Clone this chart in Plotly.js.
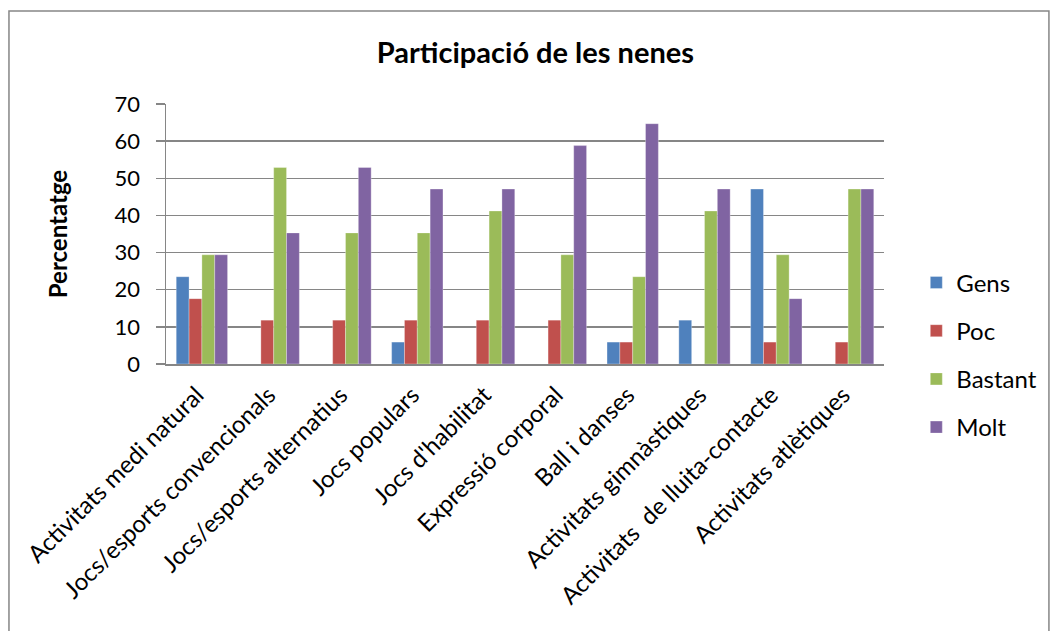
<!DOCTYPE html>
<html>
<head>
<meta charset="utf-8">
<script src="https://cdn.plot.ly/plotly-3.0.1.min.js"></script>
<style>
  html, body { margin: 0; padding: 0; background: #fff; }
  #chart { width: 1054px; height: 631px; }
</style>
</head>
<body>
<div id="chart"></div>
<script>
const categories = [
  "Activitats medi natural",
  "Jocs/esports convencionals",
  "Jocs/esports alternatius",
  "Jocs populars",
  "Jocs d'habilitat",
  "Expressió corporal",
  "Ball i danses",
  "Activitats gimnàstiques",
  "Activitats  de lluita-contacte",
  "Activitats atlètiques"
];
const gens    = [23.5, 0, 0, 5.9, 0, 0, 5.9, 11.8, 47.1, 0];
const poc     = [17.6, 11.8, 11.8, 11.8, 11.8, 11.8, 5.9, 0, 5.9, 5.9];
const bastant = [29.4, 52.9, 35.3, 35.3, 41.2, 29.4, 23.5, 41.2, 29.4, 47.1];
const molt    = [29.4, 35.3, 52.9, 47.1, 47.1, 58.8, 64.7, 47.1, 17.6, 47.1];
const seriesNames = ["Gens", "Poc", "Bastant", "Molt"];
const seriesColors = ["#4F81BD", "#C0504D", "#9BBB59", "#8064A2"];
const yTicks = [0, 10, 20, 30, 40, 50, 60, 70];

const FONT = "Lato, 'Open Sans', sans-serif";
const seriesValues = [gens, poc, bastant, molt];

const traces = seriesValues.map((vals, i) => ({
  type: "bar",
  name: seriesNames[i],
  x: categories,
  y: vals,
  legendgroup: "g" + i,
  marker: { color: seriesColors[i], line: { color: "rgba(255,255,255,0.5)", width: 0.6 } },
  hoverinfo: "x+y+name"
}));

const L = 166, R = 161, T = 104, B = 267;
const PW = 1054 - L - R, PH = 631 - T - B;

const layout = {
  width: 1054,
  height: 631,
  paper_bgcolor: "#ffffff",
  plot_bgcolor: "#ffffff",
  margin: { l: L, r: R, t: T, b: B, pad: 0 },
  barmode: "group",
  bargap: 0.285,
  bargroupgap: 0,
  font: { family: FONT, color: "#000000" },
  title: {
    text: "<b>Participació de les nenes</b>",
    font: { family: FONT, size: 29, color: "#000" },
    x: 0.508, xanchor: "center",
    y: 0.917, yanchor: "middle"
  },
  xaxis: {
    type: "category",
    tickangle: -45,
    tickfont: { family: FONT, size: 24, color: "#000" },
    showline: true, linecolor: "#868686", linewidth: 1.5,
    ticks: "", showgrid: false,
    ticklabelstandoff: 6,
    ticklabelshift: -5,
    automargin: false
  },
  yaxis: {
    range: [0, 70],
    tickvals: yTicks,
    ticktext: yTicks.map(String),
    tickfont: { family: FONT, size: 22, color: "#000" },
    ticks: "outside", ticklen: 9, tickwidth: 1.5, tickcolor: "#868686",
    showline: true, linecolor: "#868686", linewidth: 1.5,
    showgrid: true, gridcolor: "#868686", gridwidth: 1.5,
    zeroline: false,
    ticklabelstandoff: 11,
    title: { text: "<b>Percentatge</b>", font: { family: FONT, size: 24, color: "#000" }, standoff: 40 },
    automargin: false
  },
  legend: {
    x: 1.045, xanchor: "left",
    y: 0.035, yanchor: "middle",
    font: { family: FONT, size: 24, color: "#000" },
    traceorder: "grouped",
    tracegroupgap: 14,
    itemwidth: 30,
    bgcolor: "rgba(0,0,0,0)"
  },
  showlegend: true
};

// outer frame (Excel chart border: left and top visible)
layout.shapes = [{
  type: "rect", xref: "paper", yref: "paper",
  x0: (7 - L) / PW,
  x1: (1060 - L) / PW,
  y0: -(640 - (T + PH)) / PH,
  y1: 1 + (T - 11) / PH,
  line: { color: "#868686", width: 1.5 },
  fillcolor: "rgba(0,0,0,0)",
  layer: "below"
}];

Plotly.newPlot("chart", traces, layout, { displayModeBar: false, staticPlot: true });
</script>
</body>
</html>
